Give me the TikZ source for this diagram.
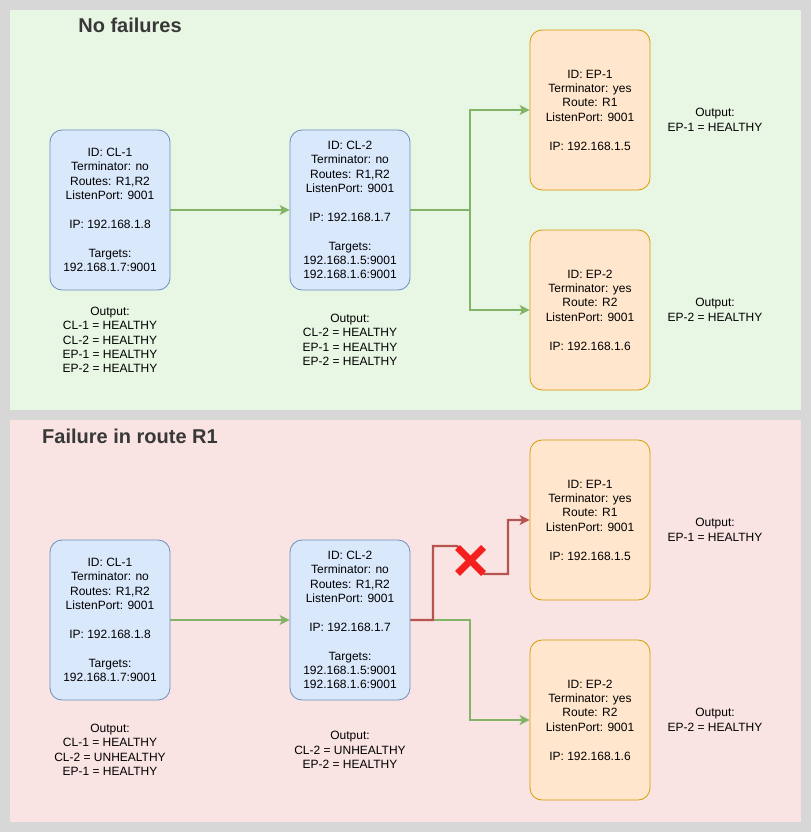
\documentclass[tikz,border=0pt]{standalone}
\usepackage{fontspec}
\setmainfont{Liberation Sans}
\usetikzlibrary{arrows.meta,calc}
\definecolor{bg}{HTML}{D7D7D7}
\definecolor{pgreen}{HTML}{E8F6E4}
\definecolor{ppink}{HTML}{F9E3E3}
\definecolor{bfill}{HTML}{DAE8FC}
\definecolor{bdraw}{HTML}{6C8EBF}
\definecolor{ofill}{HTML}{FFE6CC}
\definecolor{odraw}{HTML}{D79B00}
\definecolor{egreen}{HTML}{82B366}
\definecolor{ered}{HTML}{B85450}
\definecolor{xred}{HTML}{F51F1F}
\definecolor{ttl}{HTML}{383838}
\tikzset{
  box/.style={rectangle, rounded corners=12pt, minimum width=120pt, minimum height=160pt, line width=0.8pt, align=center, inner sep=0pt, font=\fontsize{12}{14.4}\selectfont},
  clbox/.style={box, fill=bfill, draw=bdraw},
  epbox/.style={box, fill=ofill, draw=odraw},
  outtxt/.style={align=center, inner sep=0pt, font=\fontsize{12}{14.4}\selectfont},
  ttltxt/.style={inner sep=0pt, text=ttl, font=\fontsize{20}{24}\selectfont\bfseries},
  gedge/.style={draw=egreen, line width=2.2pt, -{Stealth[length=10pt,width=10pt,inset=2.5pt]}},
  redge/.style={draw=ered, line width=2.2pt, -{Stealth[length=10pt,width=10pt,inset=2.5pt]}},
  xmk/.style={draw=xred, line width=7pt}
}
\begin{document}
\begin{tikzpicture}[x=1pt,y=-1pt]
\useasboundingbox (0,0) rectangle (811,832);
\fill[bg] (0,0) rectangle (811,832);
\fill[pgreen] (10,10) rectangle (801,410);
\fill[ppink] (10,420) rectangle (801,822);

\node[ttltxt] (t1) at (130,25) {No failures};
\node[ttltxt] (t2) at (130,436) {Failure in route R1};

% top panel
\node[clbox] (cl1t) at (110,210) {ID: CL-1\\Terminator: no\\Routes: R1,R2\\ListenPort: 9001\\[14.4pt]IP: 192.168.1.8\\[14.4pt]Targets:\\192.168.1.7:9001};
\node[clbox] (cl2t) at (350,210) {ID: CL-2\\Terminator: no\\Routes: R1,R2\\ListenPort: 9001\\[14.4pt]IP: 192.168.1.7\\[14.4pt]Targets:\\192.168.1.5:9001\\192.168.1.6:9001};
\node[epbox] (ep1t) at (590,110) {ID: EP-1\\Terminator: yes\\Route: R1\\ListenPort: 9001\\[14.4pt]IP: 192.168.1.5};
\node[epbox] (ep2t) at (590,310) {ID: EP-2\\Terminator: yes\\Route: R2\\ListenPort: 9001\\[14.4pt]IP: 192.168.1.6};

\node[outtxt] (o1t) at (110,340) {Output:\\CL-1 = HEALTHY\\CL-2 = HEALTHY\\EP-1 = HEALTHY\\EP-2 = HEALTHY};
\node[outtxt] (o2t) at (350,340) {Output:\\CL-2 = HEALTHY\\EP-1 = HEALTHY\\EP-2 = HEALTHY};
\node[outtxt] (o3t) at (715,120) {Output:\\EP-1 = HEALTHY};
\node[outtxt] (o4t) at (715,310) {Output:\\EP-2 = HEALTHY};

\coordinate (jt) at (470,210);
\draw[gedge] (cl1t) -- (cl2t);
\draw[gedge] (cl2t.east) -- (jt) |- (ep1t.west);
\draw[gedge] (cl2t.east) -- (jt) |- (ep2t.west);

% bottom panel
\node[clbox] (cl1b) at (110,620) {ID: CL-1\\Terminator: no\\Routes: R1,R2\\ListenPort: 9001\\[14.4pt]IP: 192.168.1.8\\[14.4pt]Targets:\\192.168.1.7:9001};
\node[clbox] (cl2b) at (350,620) {ID: CL-2\\Terminator: no\\Routes: R1,R2\\ListenPort: 9001\\[14.4pt]IP: 192.168.1.7\\[14.4pt]Targets:\\192.168.1.5:9001\\192.168.1.6:9001};
\node[epbox] (ep1b) at (590,520) {ID: EP-1\\Terminator: yes\\Route: R1\\ListenPort: 9001\\[14.4pt]IP: 192.168.1.5};
\node[epbox] (ep2b) at (590,720) {ID: EP-2\\Terminator: yes\\Route: R2\\ListenPort: 9001\\[14.4pt]IP: 192.168.1.6};

\node[outtxt] (o1b) at (110,750) {Output:\\CL-1 = HEALTHY\\CL-2 = UNHEALTHY\\EP-1 = HEALTHY};
\node[outtxt] (o2b) at (350,750) {Output:\\CL-2 = UNHEALTHY\\EP-2 = HEALTHY};
\node[outtxt] (o3b) at (715,530) {Output:\\EP-1 = HEALTHY};
\node[outtxt] (o4b) at (715,720) {Output:\\EP-2 = HEALTHY};

\draw[gedge] (cl1b) -- (cl2b);
\coordinate (jb) at (470,620);
\draw[gedge] (cl2b.east) -- (jb) |- (ep2b.west);
\coordinate (rb1) at (433,546);
\coordinate (rx1) at (457,546);
\coordinate (rx2) at (484,574);
\coordinate (rb2) at (508,574);
\draw[redge] (cl2b.east) -| (rb1) -- (rx1) -- (rx2) -- (rb2) |- (ep1b.west);

\coordinate (xm) at (470.5,560.5);
\draw[xmk] ($(xm)+(-13,-13)$) -- ($(xm)+(13,13)$);
\draw[xmk] ($(xm)+(13,-13)$) -- ($(xm)+(-13,13)$);
\end{tikzpicture}
\end{document}
